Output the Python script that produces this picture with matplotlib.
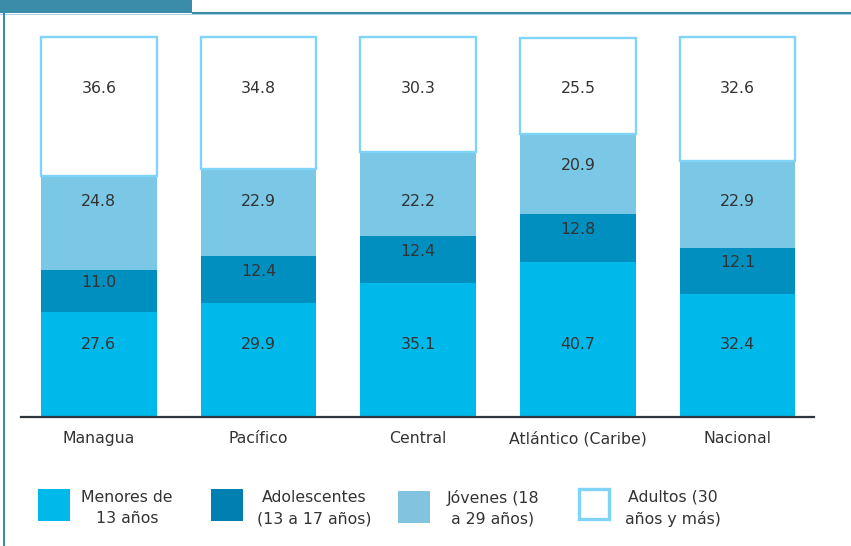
import matplotlib
matplotlib.use("Agg")
import matplotlib.pyplot as plt
from matplotlib.patches import Rectangle
import numpy as np

# ---- data ----
categories = ["Managua", "Pacífico", "Central", "Atlántico (Caribe)", "Nacional"]
menores = [27.6, 29.9, 35.1, 40.7, 32.4]
adolescentes = [11.0, 12.4, 12.4, 12.8, 12.1]
jovenes = [24.8, 22.9, 22.2, 20.9, 22.9]
adultos = [36.6, 34.8, 30.3, 25.5, 32.6]
series_names = ["Menores de\n13 años", "Adolescentes\n(13 a 17 años)",
                "Jóvenes (18\na 29 años)", "Adultos (30\naños y más)"]

# ---- style ----
W, H = 851, 546
DPI = 100
bar_colors = ["#00b9eb", "#008fbf", "#7ac7e6", "#ffffff"]
legend_colors = ["#00b9eb", "#0080b0", "#82c4e0", "#ffffff"]
edge_adult = "#7fd4f7"
text_col = "#333333"
frame_col = "#3a8ca8"
FS = 11.3

fig = plt.figure(figsize=(W / DPI, H / DPI), dpi=DPI)
fig.patch.set_facecolor("white")

def fx(px):
    return px / W

def fy(py):
    return 1 - py / H

ax_left, ax_right = 21, 814
ax_top, ax_bot = 37.3, 416.5
ax = fig.add_axes([fx(ax_left), fy(ax_bot), (ax_right - ax_left) / W, (ax_bot - ax_top) / H])

x = np.arange(len(categories))
width = 0.725
layers = [menores, adolescentes, jovenes, adultos]
bottom = np.zeros(len(categories))
anchors = [19.1, None, 56.7, 86.4]
for i, vals in enumerate(layers):
    vals = np.array(vals)
    if i == 3:
        ax.bar(x, vals, bottom=bottom, width=width, facecolor="white",
               edgecolor=edge_adult, linewidth=1.7, zorder=3, clip_on=False)
    else:
        ax.bar(x, vals, bottom=bottom, width=width, color=bar_colors[i],
               linewidth=0, zorder=2)
    for j, v in enumerate(vals):
        lo, hi = bottom[j], bottom[j] + v
        a = anchors[i]
        if a is not None and (a - lo) >= 5 and (hi - a) >= 5:
            yy = a
        else:
            yy = (lo + hi) / 2 + 2.2
        ax.text(x[j], yy, f"{v:.1f}", ha="center", va="center",
                fontsize=FS, color=text_col, zorder=5)
    bottom = bottom + vals

ax.set_xlim((ax_left - 98.8) / 159.7, (ax_right - 98.8) / 159.7)
ax.set_ylim(0, 100)
for s in ["top", "right", "left"]:
    ax.spines[s].set_visible(False)
ax.spines["bottom"].set_color("#2e343c")
ax.spines["bottom"].set_linewidth(1.6)
ax.spines["bottom"].set_zorder(6)
ax.set_yticks([])
ax.set_xticks(x)
ax.set_xticklabels(categories, fontsize=FS, color=text_col)
ax.tick_params(axis="x", length=0, pad=10.5)
ax.patch.set_alpha(0)

# ---- legend (manual) ----
leg_patch_x = [38.3, 211, 398, 578]
leg_text_x = [127, 314, 493, 673]
for k in range(4):
    if k == 3:
        r = Rectangle((fx(leg_patch_x[k] + 1.2), fy(520 - 1.2)), 30 / W, 29.5 / H,
                      facecolor="white", edgecolor=edge_adult, linewidth=2.4,
                      transform=fig.transFigure)
    else:
        top = 489 if k != 2 else 491
        r = Rectangle((fx(leg_patch_x[k]), fy(top + 32)), 32 / W, 32 / H,
                      facecolor=legend_colors[k], edgecolor="none",
                      transform=fig.transFigure)
    fig.add_artist(r)
    fig.text(fx(leg_text_x[k]), fy(508), series_names[k], ha="center", va="center",
             fontsize=FS, color=text_col, linespacing=1.5)

# ---- frame ----
fig.add_artist(Rectangle((0, fy(12.5)), fx(191.5), 12.5 / H, facecolor=frame_col,
                         edgecolor="none", transform=fig.transFigure))
fig.add_artist(Rectangle((fx(191.5), fy(14)), 1 - fx(191.5), 2.5 / H, facecolor=frame_col,
                         edgecolor="none", transform=fig.transFigure))
fig.add_artist(Rectangle((0, fy(15)), 1, 1.2 / H, facecolor="#a8d2e0",
                         edgecolor="none", transform=fig.transFigure))
fig.add_artist(Rectangle((fx(2.5), 0), 2.6 / W, fy(12.5), facecolor=frame_col,
                         edgecolor="none", transform=fig.transFigure))

fig.savefig("out.png", dpi=DPI)
